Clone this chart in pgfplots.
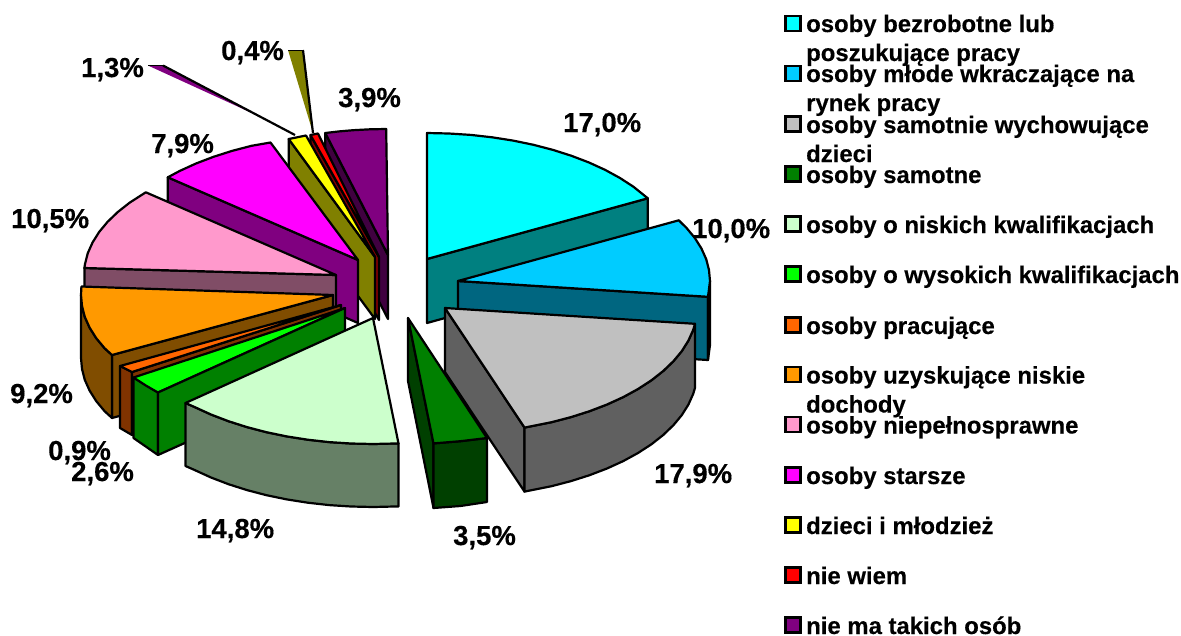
\documentclass[border=0pt]{standalone}
\usepackage{fontspec}
\setmainfont{Liberation Sans}[BoldFeatures={FakeBold=0.35}]
\usepackage{pgfplots}
\pgfplotsset{compat=1.18}
\definecolor{cCyan}{HTML}{00FFFF}\definecolor{cCyanW}{HTML}{008080}
\definecolor{cBlue}{HTML}{00CCFF}\definecolor{cBlueW}{HTML}{006680}
\definecolor{cGray}{HTML}{C0C0C0}\definecolor{cGrayW}{HTML}{606060}
\definecolor{cDkG}{HTML}{008000}\definecolor{cDkGW}{HTML}{004000}
\definecolor{cLtG}{HTML}{CCFFCC}\definecolor{cLtGW}{HTML}{668066}
\definecolor{cGrn}{HTML}{00FF00}\definecolor{cGrnW}{HTML}{008000}
\definecolor{cOrR}{HTML}{FF6600}\definecolor{cOrRW}{HTML}{803300}
\definecolor{cOrg}{HTML}{FF9900}\definecolor{cOrgW}{HTML}{804D00}
\definecolor{cPnk}{HTML}{FF99CC}\definecolor{cPnkW}{HTML}{804D66}
\definecolor{cMag}{HTML}{FF00FF}\definecolor{cMagW}{HTML}{800080}
\definecolor{cYel}{HTML}{FFFF00}\definecolor{cYelW}{HTML}{808000}
\definecolor{cRed}{HTML}{FF0000}\definecolor{cRedW}{HTML}{800000}
\definecolor{cPur}{HTML}{800080}\definecolor{cPurW}{HTML}{400040}
\pgfplotsset{pie/.style={draw=black,line width=2.2bp,line join=round,fill=#1},
  swatch/.style={only marks,mark=square*,mark size=7.5bp,mark options={draw=black,line width=2.2bp,fill=#1}}}
\newcommand{\lab}[3]{\node[anchor=base west,inner sep=0pt,font=\fontsize{27.5bp}{30bp}\selectfont\bfseries] at (axis cs:#1,#2) {#3};}
\newcommand{\leg}[2]{\node[anchor=base west,inner sep=0pt,font=\fontsize{23.9bp}{28bp}\selectfont\bfseries] at (axis cs:806,#1) {#2};}
\begin{document}
\begin{tikzpicture}
\useasboundingbox (0,0) rectangle (1181bp,636bp);
\begin{axis}[x=1bp,y=1bp,y dir=reverse,xmin=0,xmax=1181,ymin=0,ymax=636,hide axis]
% leader shards
\addplot[fill=cYelW,draw=none] coordinates {(288,50)(303,50)(313,133)} --cycle;
\addplot[draw=black,line width=2.2bp] coordinates {(303,50)(313,133)};
\addplot[draw=black,line width=0.8bp] coordinates {(288,50)(303,50)};
\addplot[fill=cPur,draw=none] coordinates {(148,65.5)(163,65.5)(265,119)} --cycle;
\addplot[draw=black,line width=2.2bp] coordinates {(163,65.5)(295,135)};
\addplot[draw=black,line width=0.8bp] coordinates {(148,65.5)(163,65.5)};
% cyan
\addplot[pie=cCyanW] coordinates {(427,259)(647.8,198.3)(647.8,262)(427,323)} --cycle;
\addplot[pie=cCyan] coordinates {(427,259)(427,133)(449,133.5)(470.8,134.9)(492.2,137.3)(513.2,140.6)(533.5,144.8)(553,149.9)(571.5,155.8)(589,162.5)(605.2,169.9)(620,178)(633.4,186.7)(647.8,198.3)} --cycle;
% blue
\addplot[pie=cBlueW] coordinates {(458,281)(708,296.8)(708,360)(458,345)} --cycle;
\addplot[pie=cBlueW] coordinates {(710,281)(708,296.8)(708,360)(710,345)} --cycle;
\addplot[pie=cBlue] coordinates {(458,281)(678.8,220.3)(686.4,227.8)(694.8,237.9)(701.4,248.4)(706.2,259.1)(709,270)(710,281)(708,296.8)} --cycle;
% gray
\addplot[pie=cGrayW] coordinates {(445,308)(524.5,427.6)(524.5,491.6)(445,372)} --cycle;
\addplot[pie=cGrayW] coordinates {(695,323.8)(693.2,329.9)(688.4,340.6)(681.8,351.1)(673.4,361.2)(663.2,371)(651.4,380.3)(638,389)(623.2,397.1)(607,404.5)(589.5,411.2)(571,417.1)(551.5,422.2)(524.5,427.6)(524.5,491.6)(551.5,486.2)(571,481.1)(589.5,475.2)(607,468.5)(623.2,461.1)(638,453)(651.4,444.3)(663.2,435)(673.4,425.2)(681.8,415.1)(688.4,404.6)(693.2,393.9)(695,387.8)} --cycle;
\addplot[pie=cGray] coordinates {(445,308)(695,323.8)(693.2,329.9)(688.4,340.6)(681.8,351.1)(673.4,361.2)(663.2,371)(651.4,380.3)(638,389)(623.2,397.1)(607,404.5)(589.5,411.2)(571,417.1)(551.5,422.2)(524.5,427.6)} --cycle;
% purple
\addplot[pie=cPurW] coordinates {(325.3,133)(388,255)(388,319)(325.3,197)} --cycle;
\addplot[pie=cPur] coordinates {(388,255)(325.3,133)(339,131.4)(353,130.2)(370,129.3)(386.2,129)} --cycle;
% red
\addplot[pie=cRedW] coordinates {(310.5,135)(379,257)(379,320)(310.5,198)} --cycle;
\addplot[pie=cRed] coordinates {(379,257)(310.5,135)(318,133.5)} --cycle;
% yellow
\addplot[pie=cYelW] coordinates {(288.7,139)(375,257)(375,319)(288.7,202)} --cycle;
\addplot[pie=cYel] coordinates {(375,257)(288.7,139)(306,135.5)} --cycle;
% magenta
\addplot[pie=cMagW] coordinates {(167.8,177.3)(358,260)(358,323)(167.8,240)} --cycle;
\addplot[pie=cMag] coordinates {(358,260)(167.8,177.3)(179.8,170.9)(196,163.5)(213.5,156.8)(232,150.9)(251.5,145.8)(270.5,142.5)} --cycle;
% pink
\addplot[pie=cPnkW] coordinates {(84.4,268)(336,275)(336,338)(84.4,331)} --cycle;
\addplot[pie=cPnk] coordinates {(336,275)(84.4,268)(85,264)(87.8,253.1)(92.6,242.4)(99.2,231.9)(107.6,221.8)(117.8,212)(129.6,202.7)(145.8,192.3)} --cycle;
% orange
\addplot[pie=cOrgW] coordinates {(112,355)(333,295)(333,358)(112,418)} --cycle;
\addplot[pie=cOrgW] coordinates {(112,355)(104.6,348.2)(96.2,338.1)(89.6,327.6)(84.8,316.9)(82,306)(81,295)(81,358)(82,369)(84.8,379.9)(89.6,390.6)(96.2,401.1)(104.6,411.2)(112,418)} --cycle;
\addplot[pie=cOrg] coordinates {(333,295)(81.4,286.5)(81,295)(82,306)(84.8,316.9)(89.6,327.6)(96.2,338.1)(104.6,348.2)(112,355)} --cycle;
% orange-red
\addplot[pie=cOrRW] coordinates {(132,372)(120,366)(120,428)(132,435)} --cycle;
\addplot[pie=cOrRW] coordinates {(132,372)(341,305)(341,368)(132,435)} --cycle;
\addplot[pie=cOrR] coordinates {(341,305)(132,372)(120,366)} --cycle;
% green
\addplot[pie=cGrnW] coordinates {(158,392.5)(133.5,377.5)(133.5,438)(158,455)} --cycle;
\addplot[pie=cGrn] coordinates {(345,308)(158,392.5)(146,385.6)(133.5,377.5)} --cycle;
\addplot[pie=cGrnW] coordinates {(158,392.5)(345,308)(345,371)(158,455)} --cycle;
% light green
\addplot[pie=cLtGW] coordinates {(398.5,443.4)(373,444)(351,443.5)(329.2,442.1)(307.8,439.7)(286.8,436.4)(266.5,432.2)(247,427.1)(228.5,421.2)(211,414.5)(194.8,407.1)(185.5,403)(185.5,466)(194.8,470.1)(211,477.5)(228.5,484.2)(247,490.1)(266.5,495.2)(286.8,499.4)(307.8,502.7)(329.2,505.1)(351,506.5)(373,507)(398.5,506.4)} --cycle;
\addplot[pie=cLtG] coordinates {(373,318)(398.5,443.4)(373,444)(351,443.5)(329.2,442.1)(307.8,439.7)(286.8,436.4)(266.5,432.2)(247,427.1)(228.5,421.2)(211,414.5)(194.8,407.1)(185.5,403)} --cycle;
% dark green
\addplot[pie=cDkGW] coordinates {(408,318)(433.5,443.4)(433.5,508)(408,381)} --cycle;
\addplot[pie=cDkGW] coordinates {(487,438)(460.4,441.2)(433.5,443.4)(433.5,508)(460.4,506)(487,502)} --cycle;
\addplot[pie=cDkG] coordinates {(408,318)(487,438)(460.4,441.2)(433.5,443.4)} --cycle;
% legend swatches
\addplot[swatch=cCyan] coordinates {(793,23.5)};
\addplot[swatch=cBlue] coordinates {(793,73.5)};
\addplot[swatch=cGray] coordinates {(793,124)};
\addplot[swatch=cDkG] coordinates {(793,174)};
\addplot[swatch=cLtG] coordinates {(793,224)};
\addplot[swatch=cGrn] coordinates {(793,274)};
\addplot[swatch=cOrR] coordinates {(793,325)};
\addplot[swatch=cOrg] coordinates {(793,374.5)};
\addplot[swatch=cPnk] coordinates {(793,424.5)};
\addplot[swatch=cMag] coordinates {(793,475)};
\addplot[swatch=cYel] coordinates {(793,525)};
\addplot[swatch=cRed] coordinates {(793,575)};
\addplot[swatch=cPur] coordinates {(793,625)};
% labels
\lab{563}{132}{17,0\%}
\lab{692}{238}{10,0\%}
\lab{654}{483}{17,9\%}
\lab{453}{545}{3,5\%}
\lab{196}{538}{14,8\%}
\lab{48}{460}{0,9\%}
\lab{71}{481}{2,6\%}
\lab{10}{403}{9,2\%}
\lab{11}{228}{10,5\%}
\lab{151}{153}{7,9\%}
\lab{81}{77}{1,3\%}
\lab{221}{60}{0,4\%}
\lab{338}{107}{3,9\%}
% legend text
\leg{32}{osoby bezrobotne lub}
\leg{61}{poszukujące pracy}
\leg{82}{osoby młode wkraczające na}
\leg{111}{rynek pracy}
\leg{133}{osoby samotnie wychowujące}
\leg{162}{dzieci}
\leg{183}{osoby samotne}
\leg{233}{osoby o niskich kwalifikacjach}
\leg{283}{osoby o wysokich kwalifikacjach}
\leg{334}{osoby pracujące}
\leg{383.5}{osoby uzyskujące niskie}
\leg{412.5}{dochody}
\leg{433.5}{osoby niepełnosprawne}
\leg{484}{osoby starsze}
\leg{534}{dzieci i młodzież}
\leg{584}{nie wiem}
\leg{634}{nie ma takich osób}
\end{axis}
\end{tikzpicture}
\end{document}
